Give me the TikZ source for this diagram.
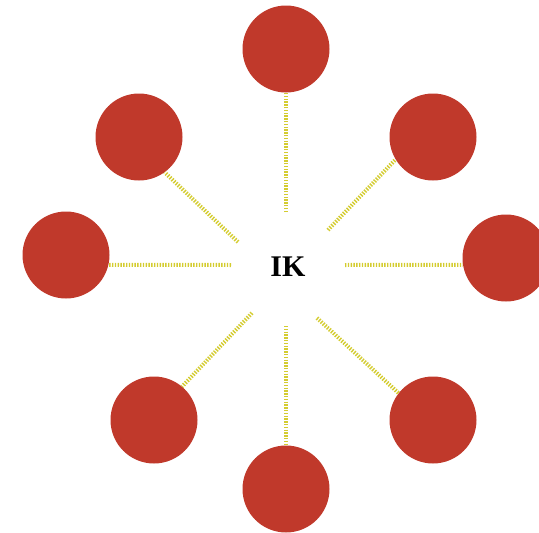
\documentclass[tikz,border=0pt]{standalone}
\usepackage{fontspec}
\setmainfont{Liberation Serif}
\begin{document}
\begin{tikzpicture}[x=1pt,y=-1pt,
  leaf/.style={circle,fill={rgb,255:red,192;green,57;blue,43},draw=none,minimum size=87pt,inner sep=0pt},
  spoke/.style={draw={rgb,255:red,212;green,204;blue,48},line width=4pt,dash pattern=on 1.4pt off 1.4pt}]
\useasboundingbox (0,0) rectangle (539,533);
% centre label
\node[font=\fontsize{30}{30}\selectfont\bfseries] (lbl) at (288,267) {IK};
% inner ends of the spokes around the label
\coordinate (hn)  at (286,212);
\coordinate (hne) at (328,230);
\coordinate (he)  at (345,265);
\coordinate (hse) at (317,318);
\coordinate (hs)  at (286,326);
\coordinate (hsw) at (252,313);
\coordinate (hw)  at (231,265);
\coordinate (hnw) at (238,242);
% outer circles
\node[leaf] (n)  at (286,49)  {};
\node[leaf] (ne) at (433,137) {};
\node[leaf] (e)  at (506,258) {};
\node[leaf] (se) at (433,420) {};
\node[leaf] (s)  at (286,489) {};
\node[leaf] (sw) at (154,420) {};
\node[leaf] (w)  at (66,255)  {};
\node[leaf] (nw) at (139,137) {};
% spokes
\draw[spoke] (hn)  -- (n.south);
\draw[spoke] (hne) -- (ne.-149);
\draw[spoke] (he)  -- (e.-171);
\draw[spoke] (hse) -- (se.142);
\draw[spoke] (hs)  -- (s.north);
\draw[spoke] (hsw) -- (sw.50);
\draw[spoke] (hw)  -- (w.-13);
\draw[spoke] (hnw) -- (nw.-54);
\end{tikzpicture}
\end{document}
